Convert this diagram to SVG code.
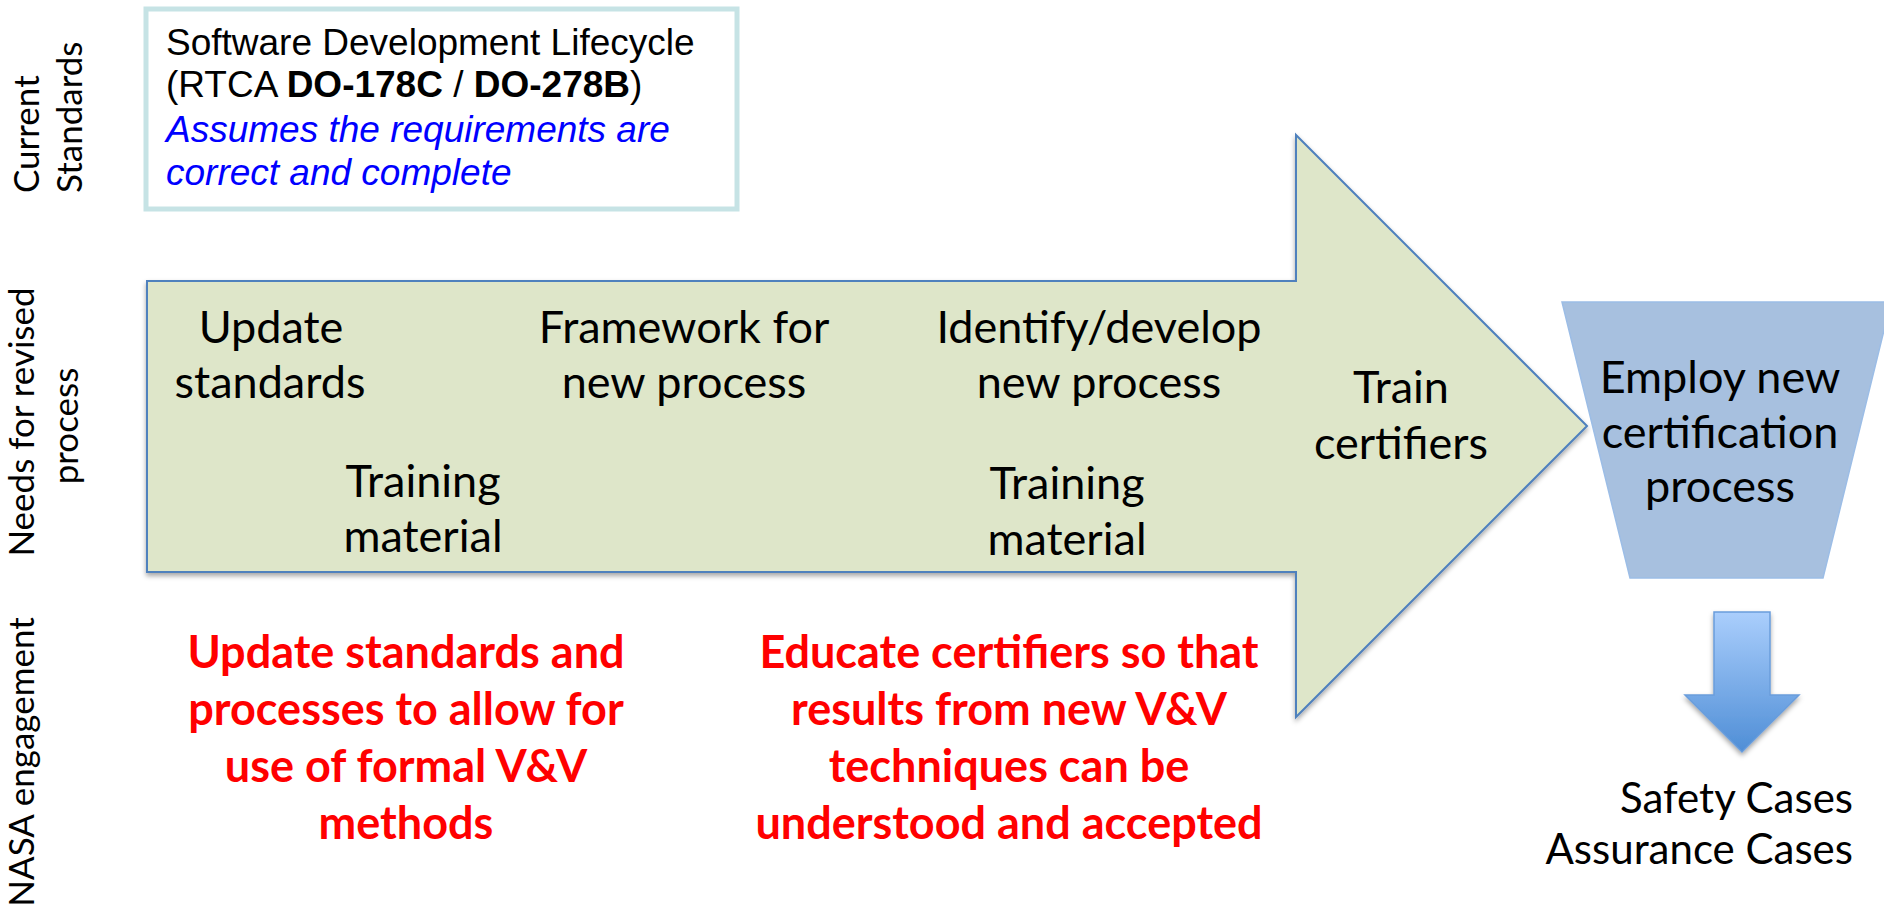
<svg xmlns="http://www.w3.org/2000/svg" width="1884" height="912" viewBox="0 0 1884 912">
<style>
.c{font-family:Lato,"Open Sans","Noto Sans",sans-serif;fill:#000}
.b{font-size:45px;text-anchor:middle}
.cs{font-size:42px;text-anchor:end}
.lab{font-size:35px}
.a{font-family:"Liberation Sans",Arial,sans-serif;font-size:37px}
.red{font-family:Lato,"Open Sans",sans-serif;font-weight:bold;font-size:45px;fill:#ff0000;text-anchor:middle}
</style>
<defs>
<filter id="sh" x="-5%" y="-5%" width="110%" height="115%">
<feDropShadow dx="0" dy="3" stdDeviation="2.5" flood-color="#000" flood-opacity="0.35"/>
</filter>
<linearGradient id="dg" x1="0" y1="0" x2="0" y2="1">
<stop offset="0" stop-color="#aacefc"/>
<stop offset="1" stop-color="#4f8ed6"/>
</linearGradient>
</defs>

<g id="labels">
<text class="c lab" transform="translate(39,193) rotate(-90)">Current</text>
<text class="c lab" transform="translate(82,193) rotate(-90)">Standards</text>
<text class="c lab" text-anchor="middle" transform="translate(34,422) rotate(-90)">Needs for revised</text>
<text class="c lab" text-anchor="middle" transform="translate(78,426) rotate(-90)">process</text>
<text class="c lab" text-anchor="middle" transform="translate(34,762) rotate(-90)">NASA engagement</text>
</g>

<g id="current-standards">
<rect x="146" y="9" width="591" height="200" fill="#fff" stroke="#c6e3e5" stroke-width="5"/>
<text class="a" x="166" y="55">Software Development Lifecycle</text>
<text class="a" x="166" y="97">(RTCA <tspan font-weight="bold">DO-178C</tspan> / <tspan font-weight="bold">DO-278B</tspan>)</text>
<text class="a" x="166" y="142" font-style="italic" fill="#0000ff">Assumes the requirements are</text>
<text class="a" x="166" y="185" font-style="italic" fill="#0000ff">correct and complete</text>
</g>

<g id="process-arrow">
<path d="M147,281 H1296 V135 L1587,426 L1296,717 V572 H147 Z" fill="#dee6c9" stroke="#4f81bd" stroke-width="2" filter="url(#sh)"/>
<text class="c b" x="271" y="343">Update</text>
<text class="c b" x="270" y="398">standards</text>
<text class="c b" x="423" y="497">Training</text>
<text class="c b" x="423" y="552">material</text>
<text class="c b" x="684" y="343">Framework for</text>
<text class="c b" x="684" y="398">new process</text>
<text class="c b" x="1099" y="343">Identify/develop</text>
<text class="c b" x="1099" y="398">new process</text>
<text class="c b" x="1067" y="499">Training</text>
<text class="c b" x="1067" y="555">material</text>
<text class="c b" x="1401" y="403">Train</text>
<text class="c b" x="1401" y="459">certifiers</text>
</g>

<g id="employ">
<path d="M1562,302 H1891 L1823,578 H1630 Z" fill="#a7c0df" stroke="#9cbde6" stroke-width="1.5"/>
<text class="c b" x="1720" y="393">Employ new</text>
<text class="c b" x="1720" y="448">certification</text>
<text class="c b" x="1720" y="502">process</text>
</g>

<g id="connectors">
<path d="M1714,612 H1770 V695 H1799 L1742,752 L1685,695 H1714 Z" fill="url(#dg)" stroke="#6a9ddb" stroke-width="1.5" filter="url(#sh)"/>
</g>

<g id="cases">
<text class="c cs" x="1853" y="813">Safety Cases</text>
<text class="c cs" x="1853" y="864">Assurance Cases</text>
</g>

<g id="nasa-left">
<text class="red" x="406" y="668">Update standards and</text>
<text class="red" x="406" y="725">processes to allow for</text>
<text class="red" x="406" y="782">use of formal V&amp;V</text>
<text class="red" x="406" y="839">methods</text>
</g>
<g id="nasa-right">
<text class="red" x="1009" y="668">Educate certifiers so that</text>
<text class="red" x="1009" y="725">results from new V&amp;V</text>
<text class="red" x="1009" y="782">techniques can be</text>
<text class="red" x="1009" y="839">understood and accepted</text>
</g>
</svg>
